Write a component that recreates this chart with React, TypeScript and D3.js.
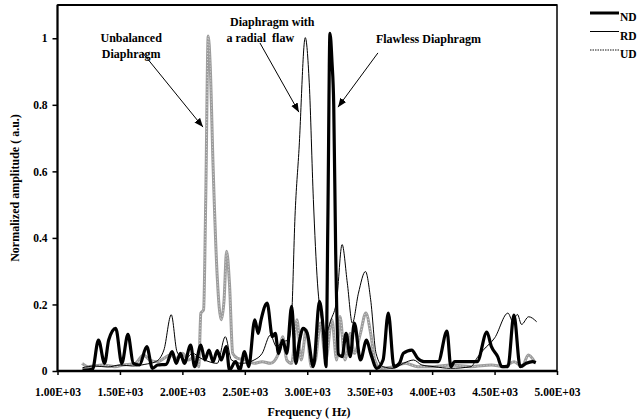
import React, { useEffect, useRef } from "react";
import * as d3 from "d3";

// frequency (Hz) / normalized amplitude
const ndFreq = [1200, 1280, 1328, 1377, 1410, 1466, 1515, 1564, 1607, 1656, 1715, 1760, 1803, 1870, 1918, 1951, 1984, 2016, 2066, 2098, 2148, 2180, 2213, 2246, 2279, 2311, 2351, 2377, 2426, 2459, 2498, 2531, 2580, 2607, 2630, 2679, 2721, 2744, 2770, 2803, 2836, 2875, 2908, 2934, 2967, 3000, 3049, 3098, 3131, 3150, 3165, 3182, 3198, 3212, 3228, 3250, 3279, 3311, 3344, 3377, 3426, 3475, 3508, 3557, 3607, 3649, 3695, 3738, 3770, 3836, 3885, 3934, 4049, 4119, 4150, 4180, 4361, 4438, 4475, 4525, 4557, 4607, 4655, 4705, 4754, 4803, 4830];
const ndAmp = [0.003, 0.005, 0.093, 0.023, 0.093, 0.128, 0.023, 0.11, 0.023, 0.018, 0.073, 0.008, 0.018, 0.02, 0.058, 0.023, 0.053, 0.023, 0.078, 0.013, 0.078, 0.033, 0.063, 0.028, 0.061, 0.033, 0.073, 0.003, 0.028, 0.003, 0.058, 0.013, 0.154, 0.113, 0.154, 0.204, 0.103, 0.113, 0.053, 0.093, 0.053, 0.194, 0.023, 0.083, 0.128, 0.113, 0.013, 0.209, 0.113, 0.013, 0.45, 1.015, 0.93, 0.8, 0.35, 0.05, 0.043, 0.113, 0.043, 0.144, 0.033, 0.093, 0.053, 0.008, 0.033, 0.174, 0.013, 0.023, 0.053, 0.063, 0.038, 0.028, 0.028, 0.12, 0.013, 0.028, 0.028, 0.117, 0.073, 0.043, 0.013, 0.013, 0.168, 0.013, 0.023, 0.028, 0.025];

const rdFreq = [1200, 1300, 1400, 1500, 1600, 1700, 1787, 1852, 1911, 1957, 2016, 2082, 2148, 2213, 2279, 2344, 2393, 2475, 2574, 2639, 2705, 2754, 2803, 2852, 2875, 2902, 2934, 2984, 3016, 3049, 3082, 3115, 3148, 3190, 3236, 3279, 3321, 3361, 3410, 3466, 3508, 3551, 3607, 3689, 3770, 3852, 3918, 4016, 4148, 4311, 4361, 4410, 4502, 4607, 4645, 4683, 4716, 4773, 4837];
const rdAmp = [0.01, 0.015, 0.012, 0.018, 0.015, 0.02, 0.028, 0.063, 0.169, 0.058, 0.033, 0.053, 0.038, 0.028, 0.023, 0.103, 0.033, 0.023, 0.033, 0.053, 0.108, 0.073, 0.088, 0.093, 0.164, 0.465, 0.666, 1.002, 0.866, 0.515, 0.264, 0.154, 0.113, 0.154, 0.214, 0.38, 0.264, 0.144, 0.234, 0.299, 0.214, 0.053, 0.013, 0.008, 0.023, 0.033, 0.018, 0.013, 0.008, 0.013, 0.04, 0.063, 0.1, 0.174, 0.15, 0.17, 0.14, 0.163, 0.148];

const udFreq = [1197, 1246, 1361, 1459, 1525, 1623, 1689, 1738, 1803, 1852, 1902, 1951, 2000, 2049, 2098, 2131, 2148, 2170, 2187, 2207, 2223, 2246, 2279, 2311, 2334, 2354, 2377, 2403, 2443, 2508, 2574, 2639, 2705, 2770, 2803, 2836, 2875, 2918, 2951, 2993, 3033, 3066, 3105, 3148, 3197, 3236, 3262, 3302, 3344, 3377, 3426, 3469, 3508, 3541, 3590, 3689, 3787, 3885, 4016, 4148, 4311, 4475, 4574, 4656, 4721, 4770, 4820];
const udAmp = [0.023, 0.013, 0.018, 0.013, 0.018, 0.023, 0.048, 0.033, 0.028, 0.038, 0.048, 0.038, 0.053, 0.033, 0.043, 0.013, 0.174, 0.184, 0.515, 1.007, 0.917, 0.615, 0.284, 0.154, 0.214, 0.36, 0.264, 0.053, 0.038, 0.033, 0.023, 0.028, 0.023, 0.053, 0.103, 0.033, 0.023, 0.154, 0.033, 0.123, 0.013, 0.033, 0.144, 0.033, 0.154, 0.033, 0.164, 0.033, 0.113, 0.053, 0.113, 0.174, 0.113, 0.033, 0.008, 0.013, 0.023, 0.013, 0.013, 0.018, 0.013, 0.018, 0.013, 0.028, 0.013, 0.048, 0.028];

const xTicks = [1000, 1500, 2000, 2500, 3000, 3500, 4000, 4500, 5000];
const xTickLabels = ["1.00E+03", "1.50E+03", "2.00E+03", "2.50E+03", "3.00E+03", "3.50E+03", "4.00E+03", "4.50E+03", "5.00E+03"];
const yTicks = [0, 0.2, 0.4, 0.6, 0.8, 1];

const seriesNames = ["ND", "RD", "UD"];

const FONT = "'Liberation Serif', 'Times New Roman', serif";

function App() {
  const ref = useRef<SVGSVGElement | null>(null);

  useEffect(() => {
    const svg = d3.select(ref.current);
    svg.selectAll("*").remove();

    const left = 57.5, right = 557, top = 5, bottom = 371;
    const x = d3.scaleLinear().domain([1000, 5000]).range([left, right]);
    const y = d3.scaleLinear().domain([0, 1.1]).range([bottom, top]);

    const line = d3
      .line<[number, number]>()
      .x((d) => x(d[0]))
      .y((d) => y(d[1]))
      .curve(d3.curveMonotoneX);

    const zip = (f: number[], a: number[]) => f.map((v, i) => [v, a[i]] as [number, number]);

    // series: UD under, then RD, ND on top
    svg.append("path")
      .attr("d", line(zip(udFreq, udAmp)))
      .attr("fill", "none")
      .attr("stroke", "#9c9c9c")
      .attr("stroke-width", 3);
    svg.append("path")
      .attr("d", line(zip(udFreq, udAmp)))
      .attr("fill", "none")
      .attr("stroke", "#d8d8d8")
      .attr("stroke-width", 1)
      .attr("stroke-dasharray", "1,2");

    svg.append("path")
      .attr("d", line(zip(rdFreq, rdAmp)))
      .attr("fill", "none")
      .attr("stroke", "#000")
      .attr("stroke-width", 1);

    svg.append("path")
      .attr("d", line(zip(ndFreq, ndAmp)))
      .attr("fill", "none")
      .attr("stroke", "#000")
      .attr("stroke-width", 3.2)
      .attr("stroke-linejoin", "round");

    // frame
    svg.append("rect")
      .attr("x", left).attr("y", top)
      .attr("width", right - left).attr("height", bottom - top)
      .attr("fill", "none").attr("stroke", "#000").attr("stroke-width", 1.5);
    svg.append("line")
      .attr("x1", left).attr("x2", right).attr("y1", top).attr("y2", top)
      .attr("stroke", "#000").attr("stroke-width", 2);
    svg.append("line")
      .attr("x1", left).attr("x2", right).attr("y1", bottom).attr("y2", bottom)
      .attr("stroke", "#000").attr("stroke-width", 2.5);
    svg.append("line")
      .attr("x1", left).attr("x2", left).attr("y1", top).attr("y2", bottom)
      .attr("stroke", "#000").attr("stroke-width", 2);

    // x axis
    const xAxis = svg.append("g").attr("transform", `translate(0,${bottom})`);
    xAxis.call(
      d3.axisBottom(x)
        .tickValues(xTicks)
        .tickSize(4)
        .tickFormat((d, i) => xTickLabels[i])
    );
    xAxis.select(".domain").remove();
    xAxis.selectAll("line").attr("stroke-width", 1.5);
    xAxis.selectAll("text")
      .attr("y", 17)
      .style("font-family", FONT)
      .style("font-size", "11.5px")
      .style("font-weight", "bold")
      .attr("fill", "#000");

    // y axis
    const yAxis = svg.append("g").attr("transform", `translate(${left},0)`);
    yAxis.call(
      d3.axisLeft(y)
        .tickValues(yTicks)
        .tickSize(5)
        .tickFormat((d) => String(d))
    );
    yAxis.select(".domain").remove();
    yAxis.selectAll("line").attr("stroke-width", 1.5);
    yAxis.selectAll("text")
      .attr("x", -10)
      .style("font-family", FONT)
      .style("font-size", "11.5px")
      .style("font-weight", "bold")
      .attr("fill", "#000");

    // axis titles
    svg.append("text")
      .attr("x", 309).attr("y", 416)
      .attr("text-anchor", "middle")
      .style("font-family", FONT).style("font-size", "12px").style("font-weight", "bold")
      .text("Frequency ( Hz)");
    svg.append("text")
      .attr("transform", "translate(19,188) rotate(-90)")
      .attr("text-anchor", "middle")
      .style("font-family", FONT).style("font-size", "12px").style("font-weight", "bold")
      .text("Normalized amplitude ( a.u.)");

    // annotations
    svg.append("defs").append("marker")
      .attr("id", "arrow")
      .attr("viewBox", "0 0 10 10")
      .attr("refX", 10).attr("refY", 5)
      .attr("markerWidth", 9).attr("markerHeight", 9)
      .attr("markerUnits", "userSpaceOnUse")
      .attr("orient", "auto")
      .append("path").attr("d", "M0,1L10,5L0,9Z").attr("fill", "#000");

    const notes = [
      { lines: ["Unbalanced", "Diaphragm"], tx: 1590, ty: 0.99, anchor: "middle", from: [1676, 0.959], to: [2165, 0.733] },
      { lines: ["Diaphragm with", "a radial  flaw"], tx: 2720, ty: 1.038, anchor: "middle", from: [2621, 0.986], to: [2933, 0.778] },
      { lines: ["Flawless Diaphragm"], tx: 3550, ty: 0.985, anchor: "start", from: [3566, 0.956], to: [3246, 0.793] },
    ];
    notes.forEach((n, k) => {
      const t = svg.append("text")
        .attr("x", x(n.tx)).attr("y", y(n.ty))
        .attr("text-anchor", n.anchor)
        .style("font-family", FONT).style("font-size", "12px").style("font-weight", "bold");
      n.lines.forEach((s, i) => {
        t.append("tspan")
          .attr("x", k === 1 && i === 1 ? x(n.tx) - 12 : x(n.tx))
          .attr("dy", i === 0 ? 0 : 16)
          .attr("xml:space", "preserve")
          .text(s);
      });
      svg.append("line")
        .attr("x1", x(n.from[0])).attr("y1", y(n.from[1]))
        .attr("x2", x(n.to[0])).attr("y2", y(n.to[1]))
        .attr("stroke", "#000").attr("stroke-width", 1)
        .attr("marker-end", "url(#arrow)");
    });

    // legend
    const legend = svg.append("g");
    seriesNames.forEach((name, i) => {
      const ly = 13 + i * 18.5;
      const g = legend.append("g");
      if (name === "UD") {
        g.append("line").attr("x1", 590).attr("x2", 619).attr("y1", ly).attr("y2", ly)
          .attr("stroke", "#8a8a8a").attr("stroke-width", 2).attr("stroke-dasharray", "1.5,1");
      } else {
        g.append("line").attr("x1", 590).attr("x2", 619).attr("y1", ly).attr("y2", ly)
          .attr("stroke", "#000").attr("stroke-width", name === "ND" ? 3 : 1);
      }
      g.append("text")
        .attr("x", 620).attr("y", ly + 8)
        .style("font-family", FONT).style("font-size", "11.5px").style("font-weight", "bold")
        .text(name);
    });
  }, []);

  return (
    <svg
      ref={ref}
      width={643}
      height={420}
      style={{ position: "absolute", left: 0, top: 0, background: "#fff" }}
    />
  );
}

export default App;
